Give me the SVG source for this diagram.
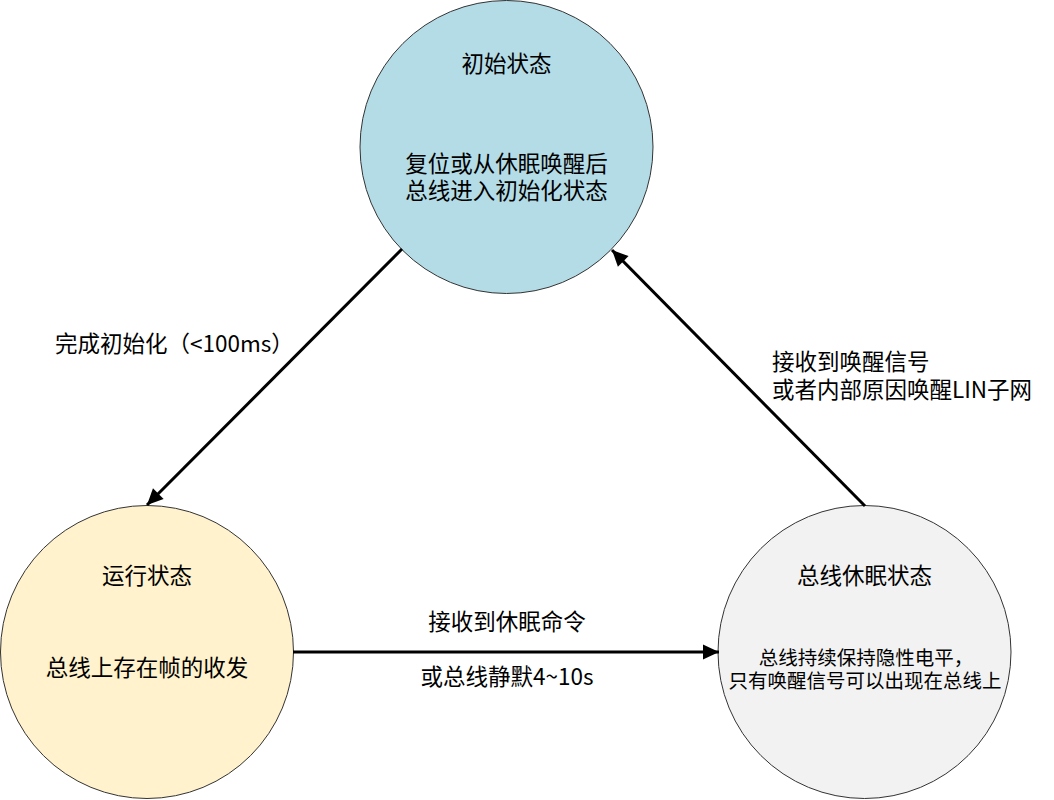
<svg xmlns="http://www.w3.org/2000/svg" width="1054" height="800" viewBox="0 0 1054 800">
  <style>
    .node { stroke: #333333; stroke-width: 1; }
    .t { font-family: "Noto Sans CJK SC", "Noto Sans", sans-serif; font-size: 22.5px; fill: #000000; text-anchor: middle; }
    .s { font-size: 19.5px; }
    .lbl { font-family: "Noto Sans CJK SC", "Noto Sans", sans-serif; font-size: 22.5px; fill: #000000; }
    .edge { stroke: #000000; stroke-width: 3; fill: none; marker-end: url(#arrow); }
  </style>
  <defs>
    <marker id="arrow" markerUnits="userSpaceOnUse" markerWidth="18" markerHeight="16" refX="16" refY="7.5" orient="auto" overflow="visible">
      <path d="M0,0 L16,7.5 L0,15 Z" fill="#000000"/>
    </marker>
  </defs>
  <rect width="1054" height="800" fill="#ffffff"/>

  <g id="node-init">
    <circle class="node" cx="506.5" cy="147" r="146.5" fill="#b4dce7"/>
    <text class="t" x="506.5" y="72">初始状态</text>
    <text class="t" x="506.5" y="172">复位或从休眠唤醒后</text>
    <text class="t" x="506.5" y="199">总线进入初始化状态</text>
  </g>

  <g id="node-run">
    <circle class="node" cx="147" cy="652" r="146.5" fill="#fff2cc"/>
    <text class="t" x="147" y="584">运行状态</text>
    <text class="t" x="147" y="676">总线上存在帧的收发</text>
  </g>

  <g id="node-sleep">
    <circle class="node" cx="864.5" cy="652" r="146.5" fill="#f2f2f2"/>
    <text class="t" x="864.5" y="584">总线休眠状态</text>
    <text class="t s" x="866" y="665">总线持续保持隐性电平，</text>
    <text class="t s" x="865" y="688">只有唤醒信号可以出现在总线上</text>
  </g>

  <g id="connectors">
    <line class="edge" x1="402" y1="249" x2="147" y2="505"/>
    <line class="edge" x1="293" y1="652" x2="719" y2="652"/>
    <line class="edge" x1="865" y1="506" x2="612" y2="250"/>
    <text class="lbl" x="55" y="352">完成初始化（&lt;100ms）</text>
    <text class="lbl" x="772" y="370">接收到唤醒信号</text>
    <text class="lbl" x="772" y="398">或者内部原因唤醒LIN子网</text>
    <text class="t" x="507" y="630">接收到休眠命令</text>
    <text class="t" x="507" y="685">或总线静默4~10s</text>
  </g>
</svg>
